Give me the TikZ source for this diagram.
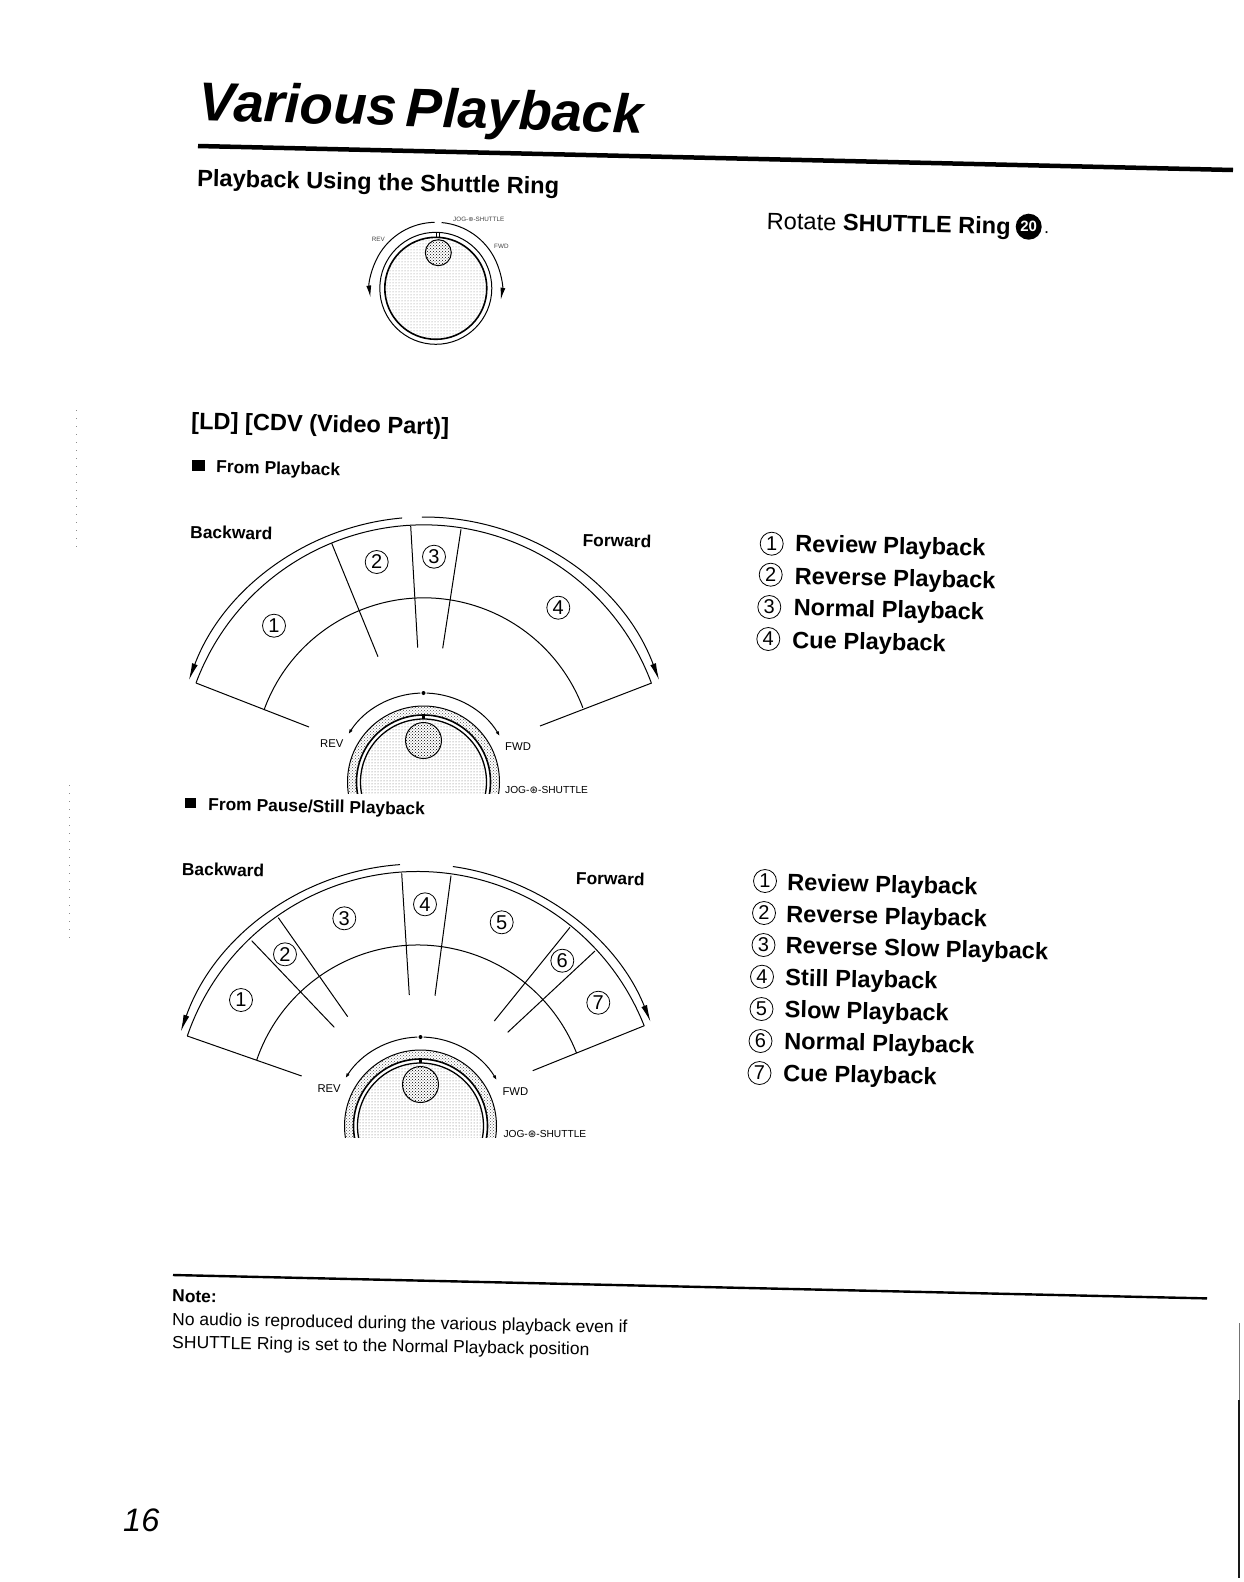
\documentclass[tikz,border=0pt]{standalone}
\usepackage{fontspec}
\setmainfont{Liberation Sans}
\newfontfamily\symfont{DejaVu Sans}
\usetikzlibrary{arrows.meta,patterns}
\newcommand{\fsz}[1]{\fontsize{#1}{#1}\selectfont}
\tikzset{
  txt/.style={anchor=base west,inner sep=0pt,rotate=-1.3},
  headtxt/.style={txt,font=\fsz{23.6}\bfseries},
  subtxt/.style={txt,font=\fsz{17.4}\bfseries},
  knobtxt/.style={anchor=base west,inner sep=0pt,font=\fsz{11.3}},
  jogtxt/.style={anchor=base west,inner sep=0pt,font=\fsz{10.2}},
  tinytxt/.style={anchor=base west,inner sep=0pt,font=\fsz{6.3},text=black!75},
  fanline/.style={line width=1pt},
  fanarrow/.style={line width=1pt,-{Latex[length=17pt,width=6pt]}},
  knobarrow/.style={line width=1pt,-{Latex[length=5pt,width=3.5pt]}},
  rulethick/.style={line width=4.5pt},
  rulethin/.style={line width=2.4pt},
  numcirc/.style={circle,draw,line width=.8pt,minimum size=23pt,inner sep=0pt,font=\fsz{20}},
  sqbullet/.style={rectangle,fill=black,inner sep=0pt},
  knobdot/.style={circle,fill=black,inner sep=0pt,minimum size=4pt},
  speck/.style={line width=.6pt,black!45,dash pattern=on 1pt off 7pt},
  shuttleknob/.pic={
    \begin{scope}
      \clip (-95,-11) rectangle (95,100);
      \draw[line width=1pt,pattern=crosshatch dots,pattern color=black!70] (0,0) circle[radius=76];
      \fill[white] (0,0) circle[radius=67];
      \draw[line width=1.6pt] (0,0) circle[radius=67];
      \draw[line width=1.3pt,pattern=dots,pattern color=black!60] (0,0) circle[radius=63];
      \fill (-1.5,63) rectangle (1.5,68);
    \end{scope}
    \fill[white] (0,41.5) circle[radius=18];
    \draw[line width=1pt,pattern=crosshatch dots,pattern color=black] (0,41.5) circle[radius=18];
    \draw[knobarrow] (92:89) arc[start angle=92,end angle=147.5,radius=89];
    \draw[knobarrow] (88:89) arc[start angle=88,end angle=31,radius=89];
    \node[knobdot] (dot) at (90:89) {};
  }
}

\begin{document}
\begin{tikzpicture}[x=1pt,y=1pt]
\useasboundingbox (0,0) rectangle (1244,-1582);

\foreach \x/\y/\n in {198/146/TA,1233/170/TB,173/1275/NA,1207/1298.4/NB,
  424/768/OA,196/683/AL,651.7/683/AR,264/710/AIL,309/727/AEL,540/726/AER,
  331.7/543.3/A1,378/656.7/A2,410.7/526/A3,417.7/647.7/A4,461/529.3/A5,442.7/648.3/A6,
  417.5/1115/OB,187.3/1036/BL,644.3/1025.7/BR,256.7/1060/BIL,301.7/1076/BEL,532.7/1070.7/BER,
  251.7/940.7/B1,334.3/1027.3/B2,278.3/917.7/B3,347.7/1016.7/B4,401.7/873.3/B5,409.3/995/B6,
  451/875.7/B7,435/995.7/B8,570/927.3/B9,494.3/1021/B10,595/951/B11,507.7/1032.3/B12,
  435.8/288.3/OS,1239/1323/EA,1239/1400/EB,1239/1578/EC,76/410/MA,76/550/MB,69/785/MC,69/945/MD}
  \coordinate (\n) at (\x,-\y);

% rules
\draw[rulethick] (TA) -- (TB);
\draw[rulethin] (NA) -- (NB);
\draw[line width=1pt,black!55] (EA) -- (EB);
\draw[line width=1.5pt,black!90] (EB) -- (EC);
\draw[speck] (MA) -- (MB);
\draw[speck] (MC) -- (MD);

% headings
\node[txt,font=\fsz{54.6}\bfseries\itshape,rotate=-.4] (title) at (198.5,-120) {Various\hspace{-6pt} Playback};
\node[headtxt] (head) at (197,-186) {Playback Using the Shuttle Ring};
\node[txt,font=\fsz{23.6}] (rotatetxt) at (766.5,-229) {Rotate \textbf{SHUTTLE Ring}};
\node[circle,fill=black,text=white,inner sep=0pt,minimum size=26pt,font=\fsz{15}\bfseries] (ringno) at (1028.7,-226.7) {20};
\node[txt,font=\fsz{18}] (ringdot) at (1044,-233) {.};
\node[headtxt] (ldhead) at (191,-429) {[LD] [CDV (Video Part)]};

% small dial
\draw[line width=1pt] (OS) circle[radius=56];
\draw[line width=1.6pt,pattern=dots,pattern color=black!50] (OS) circle[radius=51];
\fill[white] (438.3,-252.7) circle[radius=13];
\draw[line width=1pt,pattern=crosshatch dots,pattern color=black] (438.3,-252.7) circle[radius=13];
\draw[line width=.8pt] (436.5,-237) -- (436.5,-232) (439.5,-237) -- (439.5,-232);
\draw[line width=1pt,-{Latex[length=12pt,width=5pt]}] (OS) ++(91:66) arc[start angle=91,end angle=188,radius=66];
\draw[line width=1pt,-{Latex[length=12pt,width=5pt]}] (OS) ++(85:66) arc[start angle=85,end angle=-10,radius=66];
\node[tinytxt] (srev) at (371.7,-241.7) {REV};
\node[tinytxt] (sfwd) at (494,-248) {FWD};
\node[tinytxt] (sjog) at (453,-221) {JOG-{\symfont ⊛}-SHUTTLE};

% from playback
\node[sqbullet,minimum width=13.5pt,minimum height=11pt] (bula) at (198.3,-465.3) {};
\node[subtxt] (froma) at (216,-472.7) {From Playback};
\node[subtxt] (backa) at (190,-538) {Backward};
\node[subtxt] (fora) at (582.3,-546) {Forward};

\draw[fanline] (AL) arc[start angle=159.55,end angle=20.5,radius=243];
\draw[fanline] (AIL) arc[start angle=160.1,end angle=20.7,radius=170];
\draw[fanline] (AL) -- (AEL);
\draw[fanline] (AR) -- (AER);
\draw[fanline] (A1) -- (A2);
\draw[fanline] (A3) -- (A4);
\draw[fanline] (A5) -- (A6);
\draw[fanarrow] (OA) ++(95:251) arc[start angle=95,end angle=159.5,radius=251];
\draw[fanarrow] (OA) ++(90.5:251) arc[start angle=90.5,end angle=20.5,radius=251];
\node[numcirc] (fa1) at (274,-625.7) {1};
\node[numcirc] (fa2) at (376.7,-562) {2};
\node[numcirc] (fa3) at (434,-556.7) {3};
\node[numcirc] (fa4) at (558.3,-607.7) {4};

\pic at (423.5,-782) {shuttleknob};
\node[knobtxt] (reva) at (320,-747.3) {REV};
\node[knobtxt] (fwda) at (505,-750.7) {FWD};
\node[jogtxt] (joga) at (505,-793) {JOG-{\symfont ⊛}-SHUTTLE};

\node[numcirc] (la1) at (771.7,-543.7) {1};
\node[numcirc] (la2) at (770.7,-574.7) {2};
\node[numcirc] (la3) at (769.3,-607) {3};
\node[numcirc] (la4) at (768.3,-639) {4};
\node[headtxt] (ta1) at (795,-551.7) {Review Playback};
\node[headtxt] (ta2) at (794.5,-584) {Reverse Playback};
\node[headtxt] (ta3) at (793.5,-615.5) {Normal Playback};
\node[headtxt] (ta4) at (792,-648) {Cue Playback};

% from pause
\node[sqbullet,minimum width=11pt,minimum height=10pt] (bulb) at (190.5,-803) {};
\node[subtxt] (fromb) at (208,-810) {From Pause/Still Playback};
\node[subtxt] (backb) at (181.7,-875) {Backward};
\node[subtxt] (forb) at (575.7,-884) {Forward};

\draw[fanline] (BL) arc[start angle=161.06,end angle=21.5,radius=243.5];
\draw[fanline] (BIL) arc[start angle=161,end angle=21.5,radius=170.5];
\draw[fanline] (BL) -- (BEL);
\draw[fanline] (BR) -- (BER);
\draw[fanline] (B1) -- (B2);
\draw[fanline] (B3) -- (B4);
\draw[fanline] (B5) -- (B6);
\draw[fanline] (B7) -- (B8);
\draw[fanline] (B9) -- (B10);
\draw[fanline] (B11) -- (B12);
\draw[fanarrow] (OB) ++(94:251) arc[start angle=94,end angle=160.6,radius=251];
\draw[fanarrow] (OB) ++(81.9:251) arc[start angle=81.9,end angle=21.8,radius=251];
\node[numcirc] (fb1) at (241,-1000) {1};
\node[numcirc] (fb2) at (285,-954.3) {2};
\node[numcirc] (fb3) at (344.3,-918.3) {3};
\node[numcirc] (fb4) at (425,-904.3) {4};
\node[numcirc] (fb5) at (501.7,-922.3) {5};
\node[numcirc] (fb6) at (562.3,-960.7) {6};
\node[numcirc] (fb7) at (598.3,-1002.7) {7};

\pic at (420.5,-1126) {shuttleknob};
\node[knobtxt] (revb) at (317.3,-1092.3) {REV};
\node[knobtxt] (fwdb) at (502.3,-1095) {FWD};
\node[jogtxt] (jogb) at (503.3,-1137.7) {JOG-{\symfont ⊛}-SHUTTLE};

\node[numcirc] (lb1) at (765,-881) {1};
\node[numcirc] (lb2) at (764,-913) {2};
\node[numcirc] (lb3) at (763.5,-945) {3};
\node[numcirc] (lb4) at (762,-976.7) {4};
\node[numcirc] (lb5) at (761.5,-1009) {5};
\node[numcirc] (lb6) at (760.5,-1041) {6};
\node[numcirc] (lb7) at (759.5,-1073) {7};
\node[headtxt] (tb1) at (787,-890.5) {Review Playback};
\node[headtxt] (tb2) at (786,-922) {Reverse Playback};
\node[headtxt] (tb3) at (785.5,-953.5) {Reverse Slow Playback};
\node[headtxt] (tb4) at (785,-985.5) {Still Playback};
\node[headtxt] (tb5) at (784.5,-1017.5) {Slow Playback};
\node[headtxt] (tb6) at (784,-1049) {Normal Playback};
\node[headtxt] (tb7) at (783,-1081) {Cue Playback};

% note
\node[subtxt] (notehd) at (172,-1301.7) {Note:};
\node[txt,rotate=.3,font=\fsz{17.5}] (notea) at (172,-1325) {No audio is reproduced during the various playback even if};
\node[txt,rotate=.3,font=\fsz{17.5}] (noteb) at (172,-1348) {SHUTTLE Ring is set to the Normal Playback position};

\node[anchor=base west,inner sep=0pt,font=\fsz{32.5}\itshape] (pageno) at (123,-1531.7) {16};
\end{tikzpicture}
\end{document}
